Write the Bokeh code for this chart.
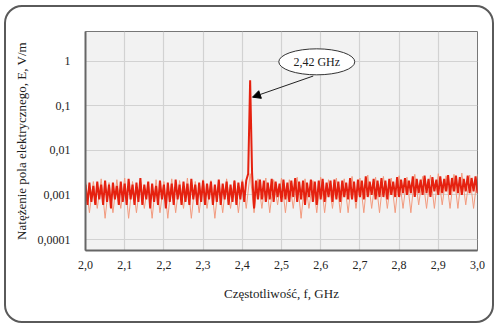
import numpy as np
from bokeh.plotting import figure
from bokeh.models import (FixedTicker, CustomJSTickFormatter, Arrow, NormalHead,
                          Range1d)
from bokeh.core.properties import value
from bokeh.embed import file_html
from bokeh.resources import INLINE

# ---------------- data ----------------
x_ticks = [2.0, 2.1, 2.2, 2.3, 2.4, 2.5, 2.6, 2.7, 2.8, 2.9, 3.0]
y_ticks = [0.0001, 0.001, 0.01, 0.1, 1]

# sweep 2.000 ... 3.000 GHz, step 0.005 GHz (201 points)
freq_ghz = np.round(np.arange(2.0, 3.0001, 0.005), 4)
e_field = [
    0.0017, 0.0006, 0.0019, 0.0007, 0.0016, 0.0006, 0.0020, 0.0008, 0.0017, 0.0006,
    0.0021, 0.0007, 0.0017, 0.0005, 0.0019, 0.0008, 0.0016, 0.0006, 0.0020, 0.0007,
    0.0018, 0.0006, 0.0023, 0.0008, 0.0017, 0.0006, 0.0019, 0.0007, 0.0024, 0.0006,
    0.0017, 0.0008, 0.0020, 0.0005, 0.0018, 0.0007, 0.0016, 0.0006, 0.0021, 0.0008,
    0.0017, 0.0005, 0.0019, 0.0007, 0.0018, 0.0006, 0.0022, 0.0008, 0.0017, 0.0006,
    0.0020, 0.0007, 0.0018, 0.0006, 0.0023, 0.0008, 0.0017, 0.0006, 0.0019, 0.0007,
    0.0021, 0.0006, 0.0018, 0.0008, 0.0020, 0.0006, 0.0017, 0.0007, 0.0022, 0.0006,
    0.0018, 0.0008, 0.0020, 0.0006, 0.0017, 0.0007, 0.0021, 0.0006, 0.0019, 0.0008,
    0.0020, 0.0007, 0.0021, 0.0030, 0.3700, 0.0030, 0.0005, 0.0021, 0.0008, 0.0022,
    0.0008, 0.0021, 0.0007, 0.0019, 0.0008, 0.0023, 0.0007, 0.0020, 0.0009, 0.0018,
    0.0007, 0.0022, 0.0008, 0.0019, 0.0007, 0.0021, 0.0009, 0.0024, 0.0007, 0.0020,
    0.0008, 0.0021, 0.0006, 0.0019, 0.0009, 0.0022, 0.0007, 0.0020, 0.0006, 0.0021,
    0.0008, 0.0023, 0.0007, 0.0019, 0.0009, 0.0021, 0.0007, 0.0022, 0.0008, 0.0020,
    0.0007, 0.0021, 0.0009, 0.0019, 0.0008, 0.0024, 0.0008, 0.0020, 0.0007, 0.0022,
    0.0009, 0.0021, 0.0008, 0.0026, 0.0009, 0.0020, 0.0010, 0.0023, 0.0008, 0.0021,
    0.0009, 0.0024, 0.0009, 0.0021, 0.0008, 0.0023, 0.0010, 0.0020, 0.0009, 0.0025,
    0.0009, 0.0022, 0.0011, 0.0024, 0.0010, 0.0021, 0.0011, 0.0026, 0.0009, 0.0023,
    0.0011, 0.0022, 0.0010, 0.0027, 0.0011, 0.0023, 0.0009, 0.0025, 0.0012, 0.0022,
    0.0010, 0.0026, 0.0011, 0.0023, 0.0012, 0.0028, 0.0010, 0.0024, 0.0012, 0.0027,
    0.0011, 0.0025, 0.0010, 0.0023, 0.0012, 0.0027, 0.0011, 0.0024, 0.0012, 0.0026,
    0.0011,
]

# lighter trace (step 0.01 GHz, 101 points)
freq_ghz_light = np.round(np.arange(2.0, 3.0001, 0.01), 3)
e_field_light = [
    0.0021, 0.0004, 0.0020, 0.0005, 0.0023, 0.0003, 0.0019, 0.0004, 0.0022, 0.0005,
    0.0024, 0.0003, 0.0020, 0.0004, 0.0021, 0.0005, 0.0019, 0.0003, 0.0022, 0.0004,
    0.0020, 0.0003, 0.0023, 0.0004, 0.0021, 0.0005, 0.0024, 0.0003, 0.0020, 0.0004,
    0.0022, 0.0005, 0.0021, 0.0003, 0.0020, 0.0004, 0.0023, 0.0005, 0.0021, 0.0004,
    0.0022, 0.0005, 0.0030, 0.0004, 0.0023, 0.0005, 0.0024, 0.0004, 0.0022, 0.0006,
    0.0024, 0.0004, 0.0022, 0.0005, 0.0025, 0.0003, 0.0023, 0.0005, 0.0021, 0.0004,
    0.0025, 0.0004, 0.0022, 0.0005, 0.0024, 0.0004, 0.0023, 0.0004, 0.0026, 0.0005,
    0.0024, 0.0004, 0.0028, 0.0005, 0.0025, 0.0004, 0.0026, 0.0005, 0.0024, 0.0004,
    0.0027, 0.0005, 0.0025, 0.0004, 0.0029, 0.0006, 0.0026, 0.0005, 0.0028, 0.0005,
    0.0030, 0.0006, 0.0027, 0.0005, 0.0029, 0.0005, 0.0031, 0.0006, 0.0028, 0.0005,
    0.0029,
]

peak_label = "2,42 GHz"

# ---------------- figure ----------------
SERIF = "Liberation Serif"

p = figure(width=490, height=318, output_backend="svg", toolbar_location=None,
           y_axis_type="log",
           x_range=Range1d(2.0, 3.0), y_range=Range1d(5.7e-5, 4.6),
           min_border_left=79, min_border_right=19, min_border_top=24,
           min_border_bottom=75)
p.margin = (5, 0, 0, 4)
p.styles = {"border": "2px solid #5a5a5a", "border-radius": "18px",
            "box-sizing": "border-box", "background-color": "white"}

p.background_fill_color = "#f2f2f2"
p.border_fill_color = "white"
p.border_fill_alpha = 0
p.outline_line_color = "#777777"
p.outline_line_width = 1

p.xgrid.ticker = FixedTicker(ticks=x_ticks)
p.ygrid.ticker = FixedTicker(ticks=y_ticks)
p.grid.grid_line_color = "#d2d2d2"
p.grid.grid_line_width = 1.2

p.xaxis.ticker = FixedTicker(ticks=x_ticks)
p.yaxis.ticker = FixedTicker(ticks=y_ticks)
p.xaxis.formatter = CustomJSTickFormatter(code="return tick.toFixed(1).replace('.', ',');")
p.yaxis.formatter = CustomJSTickFormatter(code="return String(tick).replace('.', ',');")
p.yaxis.minor_tick_line_color = None
p.xaxis.minor_tick_line_color = None
p.axis.major_tick_line_color = None
p.axis.axis_line_color = "#666666"
p.axis.axis_line_width = 2
p.axis.major_label_text_font = SERIF
p.axis.major_label_text_font_size = "12px"
p.axis.major_label_text_color = "#222222"
p.xaxis.major_label_standoff = 4
p.yaxis.major_label_standoff = 9
p.axis.axis_label_text_font = SERIF
p.axis.axis_label_text_font_size = "13px"
p.axis.axis_label_text_font_style = "normal"
p.axis.axis_label_text_color = "#222222"
p.xaxis.axis_label = "Częstotliwość, f, GHz"
p.yaxis.axis_label = "Natężenie pola elektrycznego, E, V/m"
p.xaxis.axis_label_standoff = 14
p.yaxis.axis_label_standoff = 6

# traces
p.line(freq_ghz_light, e_field_light, line_color="#f29a7e", line_width=1.0)
p.line(freq_ghz, e_field, line_color="#e5210f", line_width=2.0)

# annotation
i_peak = int(np.argmax(e_field))
f_peak = float(freq_ghz[i_peak])
e_peak = float(e_field[i_peak])

p.ellipse(x=[f_peak + 0.17], y=[e_peak * 2.6], width=76, height=26,
          width_units="screen", height_units="screen",
          fill_color="white", line_color="#333333", line_width=1)
p.text(x=[f_peak + 0.17], y=[e_peak * 2.6], text=[peak_label],
       text_font=value(SERIF), text_font_size="12px", text_color="#222222",
       text_align="center", text_baseline="middle")
p.add_layout(Arrow(end=NormalHead(size=8, fill_color="black", line_color="black"),
                   x_start=f_peak + 0.161, y_start=e_peak * 1.25,
                   x_end=f_peak + 0.006, y_end=e_peak * 0.42,
                   line_color="#222222", line_width=1))

open("out.html", "w").write(file_html(p, INLINE))
